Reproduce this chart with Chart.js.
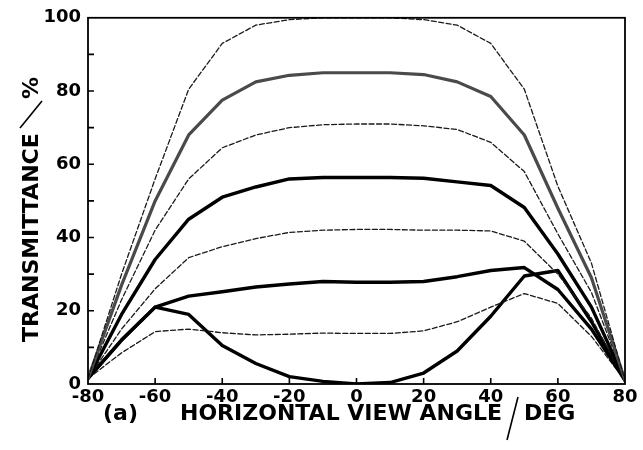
<!DOCTYPE html>
<html>
<head>
<meta charset="utf-8">
<script src="https://cdn.jsdelivr.net/npm/chart.js@4.4.1/dist/chart.umd.min.js"></script>
<style>
  html, body { margin: 0; padding: 0; background: #fff; }
  #wrap { width: 643px; height: 450px; }
</style>
</head>
<body>
<div id="wrap"><canvas id="c" width="643" height="450"></canvas></div>
<script>
// ---- data ----
const angles = [-80, -70, -60, -50, -40, -30, -20, -10, 0, 10, 20, 30, 40, 50, 60, 70, 80];
const curve1 = [1.5, 30, 56, 80.5, 93, 98, 99.5, 100, 100, 100, 99.5, 98, 93, 80.5, 54, 33, 1];
const curve2 = [1.5, 27, 50, 68, 77.5, 82.5, 84.3, 85, 85, 85, 84.5, 82.5, 78.5, 68, 48, 29, 1];
const curve3 = [1.5, 23, 42, 56, 64.5, 68, 70, 70.8, 71, 71, 70.5, 69.5, 66, 58, 41, 25, 1];
const curve4 = [1.5, 19, 34, 45, 51, 53.8, 56, 56.4, 56.4, 56.4, 56.2, 55.2, 54.2, 48.2, 35.5, 21, 1];
const curve5 = [1.5, 15, 26, 34.5, 37.5, 39.7, 41.4, 42, 42.2, 42.2, 42, 42, 41.8, 39, 30, 18, 1];
const curve6 = [1.5, 12, 21, 24, 25.2, 26.5, 27.3, 28, 27.8, 27.8, 28, 29.3, 31, 31.8, 25.8, 15, 1];
const curve7 = [1.5, 8.5, 14.3, 15, 14, 13.4, 13.6, 13.9, 13.8, 13.8, 14.5, 17, 21, 24.7, 22, 13, 1];
const curve8 = [1.5, 12, 21, 19, 10.5, 5.6, 2, 0.7, 0, 0.4, 3, 9, 18.5, 29.5, 31, 17, 1];
const xTicks = [-80, -60, -40, -20, 0, 20, 40, 60, 80];
const yTicks = [0, 20, 40, 60, 80, 100];
const xTitleParts = ["(a)", "HORIZONTAL VIEW ANGLE", "DEG"];
const yTitleParts = ["TRANSMITTANCE", "%"];

const FONT = "'DejaVu Sans', 'Liberation Sans', Arial, sans-serif";

function pts(arr) { return angles.map((a, i) => ({ x: a, y: arr[i] })); }
function ds(arr, style) {
  const base = { data: pts(arr), pointRadius: 0, tension: 0, fill: false, borderJoinStyle: 'round', borderCapStyle: 'round' };
  if (style === 'dash') return Object.assign(base, { borderColor: '#1a1a1a', borderWidth: 1.3, borderDash: [5, 2.5] });
  if (style === 'gray') return Object.assign(base, { borderColor: '#4a4a4a', borderWidth: 3.2 });
  return Object.assign(base, { borderColor: '#000', borderWidth: 3.4 });
}

const framePlugin = {
  id: 'frame',
  afterDatasetsDraw(chart) {
    const { ctx, chartArea: a, scales } = chart;
    ctx.save();
    ctx.strokeStyle = '#000';
    ctx.lineWidth = 1.8;
    ctx.strokeRect(a.left, a.top, a.right - a.left, a.bottom - a.top);
    ctx.lineWidth = 1.6;
    ctx.beginPath();
    for (let v = 10; v < 100; v += 10) {
      const y = scales.y.getPixelForValue(v);
      ctx.moveTo(a.left, y); ctx.lineTo(a.left + 6, y);
    }
    xTicks.forEach(v => {
      if (v === -80 || v === 80) return;
      const x = scales.x.getPixelForValue(v);
      ctx.moveTo(x, a.bottom); ctx.lineTo(x, a.bottom - 6);
    });
    ctx.stroke();

    // x title
    ctx.fillStyle = '#000';
    ctx.font = 'bold 22px ' + FONT;
    ctx.textBaseline = 'alphabetic';
    ctx.textAlign = 'left';
    ctx.fillText(xTitleParts[0], 103, 420);
    ctx.fillText(xTitleParts[1], 180, 420);
    ctx.fillText(xTitleParts[2], 524, 420);
    ctx.lineWidth = 1.6;
    ctx.beginPath();
    ctx.moveTo(518, 397); ctx.lineTo(507, 440);
    ctx.stroke();

    // y title (rotated)
    ctx.save();
    ctx.translate(38, 342);
    ctx.rotate(-Math.PI / 2);
    ctx.fillText(yTitleParts[0], 0, 0);
    ctx.fillText(yTitleParts[1], 243, 0);
    ctx.beginPath();
    ctx.moveTo(214, -18); ctx.lineTo(241, 4);
    ctx.stroke();
    ctx.restore();
    ctx.restore();
  }
};

new Chart(document.getElementById('c'), {
  type: 'line',
  data: {
    datasets: [
      ds(curve1, 'dash'), ds(curve2, 'gray'), ds(curve3, 'dash'), ds(curve4, 'solid'),
      ds(curve5, 'dash'), ds(curve6, 'solid'), ds(curve7, 'dash'), ds(curve8, 'solid')
    ]
  },
  options: {
    responsive: false,
    devicePixelRatio: 1,
    animation: false,
    layout: { padding: { left: 0, right: 18, top: 15, bottom: 0 } },
    plugins: { legend: { display: false }, tooltip: { enabled: false } },
    scales: {
      x: {
        type: 'linear', min: -80, max: 80,
        afterBuildTicks(s) { s.ticks = xTicks.map(v => ({ value: v })); },
        afterFit(s) { s.height = 66; },
        grid: { display: false, drawTicks: false },
        border: { display: false },
        ticks: { color: '#000', padding: 3, maxRotation: 0, font: { family: FONT, size: 18, weight: 'bold' } }
      },
      y: {
        min: 0, max: 100,
        afterBuildTicks(s) { s.ticks = yTicks.map(v => ({ value: v })); },
        afterFit(s) { s.width = 88; },
        grid: { display: false, drawTicks: false },
        border: { display: false },
        ticks: { color: '#000', padding: 7, font: { family: FONT, size: 18, weight: 'bold' } }
      }
    }
  },
  plugins: [framePlugin]
});
</script>
</body>
</html>
